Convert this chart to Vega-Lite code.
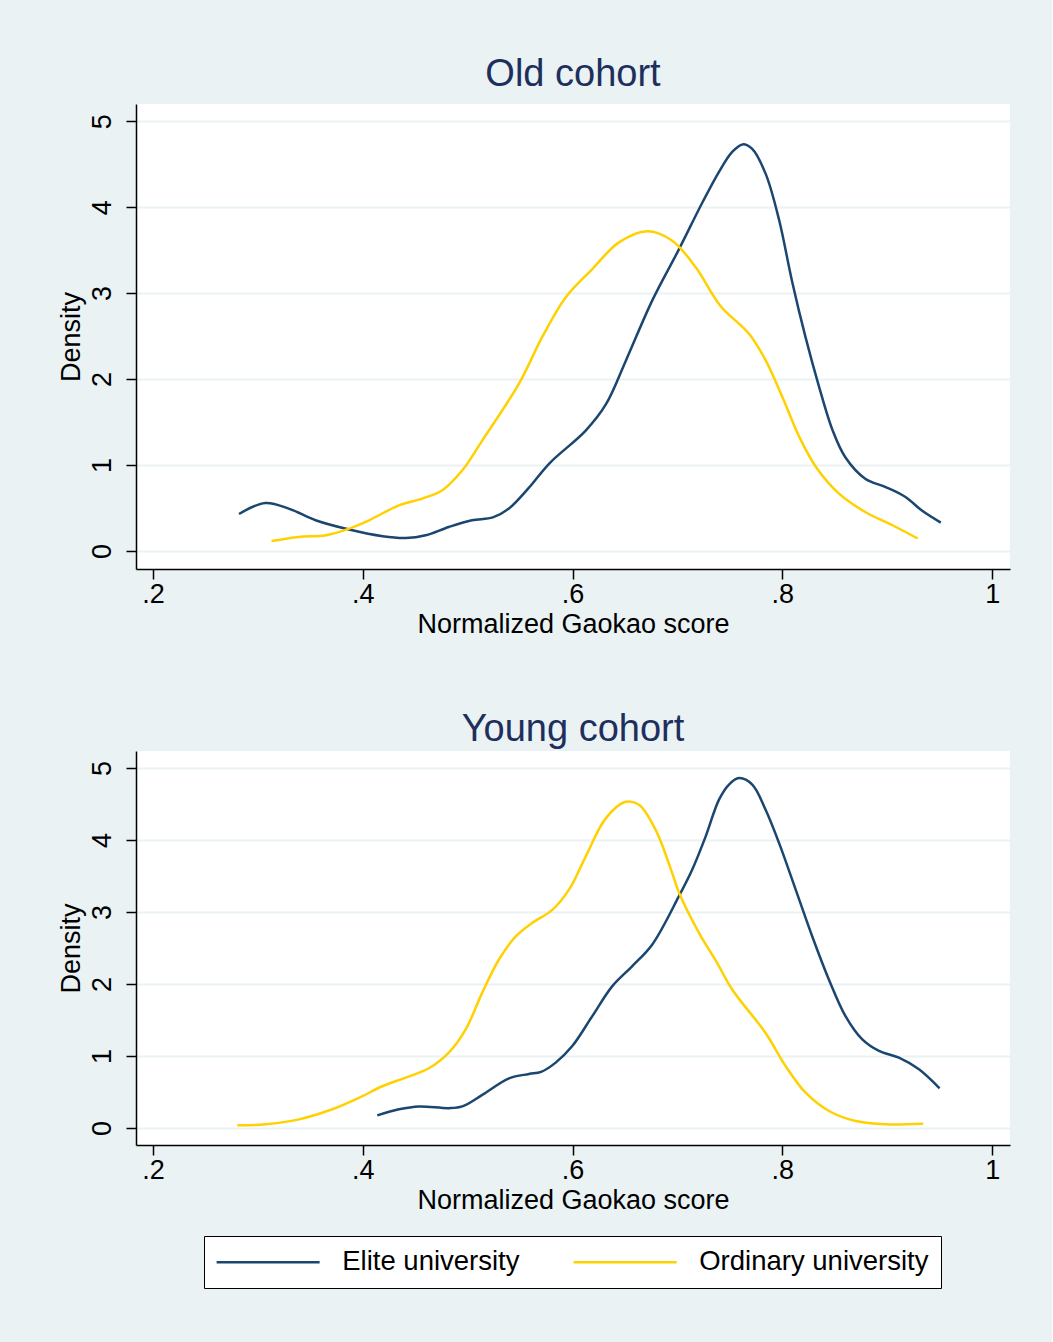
{
  "$schema": "https://vega.github.io/schema/vega-lite/v6.json",
  "background": "#EAF2F3",
  "padding": {"left": 57, "top": 56, "right": 42, "bottom": 57},
  "data": {"values": [
    {"c":"Old","g":"Elite university","x":0.282,"y":0.43},
    {"c":"Old","g":"Elite university","x":0.307,"y":0.558},
    {"c":"Old","g":"Elite university","x":0.330,"y":0.49},
    {"c":"Old","g":"Elite university","x":0.355,"y":0.357},
    {"c":"Old","g":"Elite university","x":0.387,"y":0.249},
    {"c":"Old","g":"Elite university","x":0.419,"y":0.171},
    {"c":"Old","g":"Elite university","x":0.441,"y":0.151},
    {"c":"Old","g":"Elite university","x":0.460,"y":0.183},
    {"c":"Old","g":"Elite university","x":0.482,"y":0.279},
    {"c":"Old","g":"Elite university","x":0.504,"y":0.357},
    {"c":"Old","g":"Elite university","x":0.524,"y":0.39},
    {"c":"Old","g":"Elite university","x":0.539,"y":0.49},
    {"c":"Old","g":"Elite university","x":0.558,"y":0.73},
    {"c":"Old","g":"Elite university","x":0.578,"y":1.02},
    {"c":"Old","g":"Elite university","x":0.6125,"y":1.40},
    {"c":"Old","g":"Elite university","x":0.632,"y":1.71},
    {"c":"Old","g":"Elite university","x":0.651,"y":2.22},
    {"c":"Old","g":"Elite university","x":0.676,"y":2.915},
    {"c":"Old","g":"Elite university","x":0.701,"y":3.50},
    {"c":"Old","g":"Elite university","x":0.724,"y":4.06},
    {"c":"Old","g":"Elite university","x":0.740,"y":4.42},
    {"c":"Old","g":"Elite university","x":0.752,"y":4.64},
    {"c":"Old","g":"Elite university","x":0.762,"y":4.73},
    {"c":"Old","g":"Elite university","x":0.771,"y":4.68},
    {"c":"Old","g":"Elite university","x":0.784,"y":4.39},
    {"c":"Old","g":"Elite university","x":0.797,"y":3.845},
    {"c":"Old","g":"Elite university","x":0.809,"y":3.15},
    {"c":"Old","g":"Elite university","x":0.822,"y":2.49},
    {"c":"Old","g":"Elite university","x":0.835,"y":1.91},
    {"c":"Old","g":"Elite university","x":0.848,"y":1.40},
    {"c":"Old","g":"Elite university","x":0.860,"y":1.09},
    {"c":"Old","g":"Elite university","x":0.879,"y":0.84},
    {"c":"Old","g":"Elite university","x":0.898,"y":0.745},
    {"c":"Old","g":"Elite university","x":0.917,"y":0.63},
    {"c":"Old","g":"Elite university","x":0.933,"y":0.47},
    {"c":"Old","g":"Elite university","x":0.951,"y":0.33},
    {"c":"Old","g":"Ordinary university","x":0.313,"y":0.116},
    {"c":"Old","g":"Ordinary university","x":0.339,"y":0.163},
    {"c":"Old","g":"Ordinary university","x":0.365,"y":0.183},
    {"c":"Old","g":"Ordinary university","x":0.387,"y":0.26},
    {"c":"Old","g":"Ordinary university","x":0.406,"y":0.357},
    {"c":"Old","g":"Ordinary university","x":0.4345,"y":0.531},
    {"c":"Old","g":"Ordinary university","x":0.4567,"y":0.609},
    {"c":"Old","g":"Ordinary university","x":0.4758,"y":0.706},
    {"c":"Old","g":"Ordinary university","x":0.4949,"y":0.938},
    {"c":"Old","g":"Ordinary university","x":0.514,"y":1.287},
    {"c":"Old","g":"Ordinary university","x":0.5489,"y":1.946},
    {"c":"Old","g":"Ordinary university","x":0.5711,"y":2.49},
    {"c":"Old","g":"Ordinary university","x":0.5934,"y":2.95},
    {"c":"Old","g":"Ordinary university","x":0.6188,"y":3.28},
    {"c":"Old","g":"Ordinary university","x":0.6442,"y":3.59},
    {"c":"Old","g":"Ordinary university","x":0.6712,"y":3.72},
    {"c":"Old","g":"Ordinary university","x":0.695,"y":3.61},
    {"c":"Old","g":"Ordinary university","x":0.7174,"y":3.30},
    {"c":"Old","g":"Ordinary university","x":0.741,"y":2.85},
    {"c":"Old","g":"Ordinary university","x":0.768,"y":2.53},
    {"c":"Old","g":"Ordinary university","x":0.784,"y":2.22},
    {"c":"Old","g":"Ordinary university","x":0.800,"y":1.79},
    {"c":"Old","g":"Ordinary university","x":0.816,"y":1.33},
    {"c":"Old","g":"Ordinary university","x":0.832,"y":0.977},
    {"c":"Old","g":"Ordinary university","x":0.854,"y":0.667},
    {"c":"Old","g":"Ordinary university","x":0.879,"y":0.453},
    {"c":"Old","g":"Ordinary university","x":0.905,"y":0.299},
    {"c":"Old","g":"Ordinary university","x":0.929,"y":0.145},
    {"c":"Young","g":"Elite university","x":0.4138,"y":0.176},
    {"c":"Young","g":"Elite university","x":0.4345,"y":0.26},
    {"c":"Young","g":"Elite university","x":0.4536,"y":0.30},
    {"c":"Young","g":"Elite university","x":0.4822,"y":0.276},
    {"c":"Young","g":"Elite university","x":0.4949,"y":0.30},
    {"c":"Young","g":"Elite university","x":0.5139,"y":0.46},
    {"c":"Young","g":"Elite university","x":0.5394,"y":0.69},
    {"c":"Young","g":"Elite university","x":0.5584,"y":0.75},
    {"c":"Young","g":"Elite university","x":0.5700,"y":0.78},
    {"c":"Young","g":"Elite university","x":0.5839,"y":0.908},
    {"c":"Young","g":"Elite university","x":0.5997,"y":1.138},
    {"c":"Young","g":"Elite university","x":0.6188,"y":1.554},
    {"c":"Young","g":"Elite university","x":0.6379,"y":1.97},
    {"c":"Young","g":"Elite university","x":0.6569,"y":2.248},
    {"c":"Young","g":"Elite university","x":0.676,"y":2.55},
    {"c":"Young","g":"Elite university","x":0.7014,"y":3.22},
    {"c":"Young","g":"Elite university","x":0.7141,"y":3.59},
    {"c":"Young","g":"Elite university","x":0.7269,"y":4.05},
    {"c":"Young","g":"Elite university","x":0.7396,"y":4.56},
    {"c":"Young","g":"Elite university","x":0.7491,"y":4.77},
    {"c":"Young","g":"Elite university","x":0.7587,"y":4.86},
    {"c":"Young","g":"Elite university","x":0.7713,"y":4.77},
    {"c":"Young","g":"Elite university","x":0.784,"y":4.42},
    {"c":"Young","g":"Elite university","x":0.7968,"y":3.96},
    {"c":"Young","g":"Elite university","x":0.8127,"y":3.31},
    {"c":"Young","g":"Elite university","x":0.8285,"y":2.66},
    {"c":"Young","g":"Elite university","x":0.8444,"y":2.06},
    {"c":"Young","g":"Elite university","x":0.8603,"y":1.55},
    {"c":"Young","g":"Elite university","x":0.8762,"y":1.23},
    {"c":"Young","g":"Elite university","x":0.8921,"y":1.07},
    {"c":"Young","g":"Elite university","x":0.9111,"y":0.977},
    {"c":"Young","g":"Elite university","x":0.9302,"y":0.815},
    {"c":"Young","g":"Elite university","x":0.9499,"y":0.55},
    {"c":"Young","g":"Ordinary university","x":0.2804,"y":0.037},
    {"c":"Young","g":"Ordinary university","x":0.3074,"y":0.051},
    {"c":"Young","g":"Ordinary university","x":0.3392,"y":0.12},
    {"c":"Young","g":"Ordinary university","x":0.3709,"y":0.26},
    {"c":"Young","g":"Ordinary university","x":0.3964,"y":0.42},
    {"c":"Young","g":"Ordinary university","x":0.4186,"y":0.58},
    {"c":"Young","g":"Ordinary university","x":0.4409,"y":0.70},
    {"c":"Young","g":"Ordinary university","x":0.4631,"y":0.83},
    {"c":"Young","g":"Ordinary university","x":0.4822,"y":1.05},
    {"c":"Young","g":"Ordinary university","x":0.4981,"y":1.37},
    {"c":"Young","g":"Ordinary university","x":0.5139,"y":1.88},
    {"c":"Young","g":"Ordinary university","x":0.5298,"y":2.34},
    {"c":"Young","g":"Ordinary university","x":0.5458,"y":2.66},
    {"c":"Young","g":"Ordinary university","x":0.5616,"y":2.85},
    {"c":"Young","g":"Ordinary university","x":0.5807,"y":3.03},
    {"c":"Young","g":"Ordinary university","x":0.5966,"y":3.31},
    {"c":"Young","g":"Ordinary university","x":0.6125,"y":3.77},
    {"c":"Young","g":"Ordinary university","x":0.6316,"y":4.30},
    {"c":"Young","g":"Ordinary university","x":0.6506,"y":4.53},
    {"c":"Young","g":"Ordinary university","x":0.6633,"y":4.49},
    {"c":"Young","g":"Ordinary university","x":0.6792,"y":4.14},
    {"c":"Young","g":"Ordinary university","x":0.695,"y":3.54},
    {"c":"Young","g":"Ordinary university","x":0.7014,"y":3.27},
    {"c":"Young","g":"Ordinary university","x":0.7205,"y":2.71},
    {"c":"Young","g":"Ordinary university","x":0.7379,"y":2.29},
    {"c":"Young","g":"Ordinary university","x":0.7523,"y":1.92},
    {"c":"Young","g":"Ordinary university","x":0.784,"y":1.32},
    {"c":"Young","g":"Ordinary university","x":0.8031,"y":0.86},
    {"c":"Young","g":"Ordinary university","x":0.8222,"y":0.49},
    {"c":"Young","g":"Ordinary university","x":0.8444,"y":0.236},
    {"c":"Young","g":"Ordinary university","x":0.8698,"y":0.097},
    {"c":"Young","g":"Ordinary university","x":0.8985,"y":0.051},
    {"c":"Young","g":"Ordinary university","x":0.9343,"y":0.06}
  ]},
  "spacing": 74,
  "resolve": {"legend": {"color": "independent"}},
  "vconcat": [
    {
      "width": 874,
      "height": 465,
      "title": {"text": "Old cohort", "offset": 10},
      "transform": [{"filter": "datum.c === 'Old'"}],
      "mark": {"type": "line", "interpolate": "catmull-rom", "strokeWidth": 2.5},
      "encoding": {
        "x": {"field": "x", "type": "quantitative", "title": "Normalized Gaokao score",
              "scale": {"domain": [0.1838, 1.017], "nice": false, "zero": false},
              "axis": {"values": [0.2, 0.4, 0.6, 0.8, 1.0], "labelExpr": "datum.value >= 0.99 ? '1' : '.' + format(datum.value * 10, '.0f')"}},
        "y": {"field": "y", "type": "quantitative", "title": "Density",
              "scale": {"domain": [-0.21, 5.2], "nice": false, "zero": false},
              "axis": {"values": [0, 1, 2, 3, 4, 5]}},
        "color": {"field": "g", "type": "nominal",
                  "scale": {"domain": ["Elite university", "Ordinary university"], "range": ["#1B4670", "#FFD100"]},
                  "legend": null}
      }
    },
    {
      "width": 874,
      "height": 394,
      "title": {"text": "Young cohort", "offset": 2},
      "transform": [{"filter": "datum.c === 'Young'"}],
      "mark": {"type": "line", "interpolate": "catmull-rom", "strokeWidth": 2.5},
      "encoding": {
        "x": {"field": "x", "type": "quantitative", "title": "Normalized Gaokao score",
              "scale": {"domain": [0.1838, 1.017], "nice": false, "zero": false},
              "axis": {"values": [0.2, 0.4, 0.6, 0.8, 1.0], "labelExpr": "datum.value >= 0.99 ? '1' : '.' + format(datum.value * 10, '.0f')"}},
        "y": {"field": "y", "type": "quantitative", "title": "Density",
              "scale": {"domain": [-0.236, 5.236], "nice": false, "zero": false},
              "axis": {"values": [0, 1, 2, 3, 4, 5]}},
        "color": {"field": "g", "type": "nominal",
                  "scale": {"domain": ["Elite university", "Ordinary university"], "range": ["#1B4670", "#FFD100"]},
                  "legend": {"title": null, "orient": "none", "legendX": 68, "legendY": 485, "direction": "horizontal"}}
      }
    }
  ],
  "config": {
    "font": "Liberation Sans",
    "view": {"fill": "white", "stroke": null},
    "title": {"fontSize": 38, "fontWeight": "normal", "color": "#1E2F5E", "frame": "group", "anchor": "middle", "font": "Liberation Sans"},
    "axis": {"domainColor": "black", "domainWidth": 1.5, "tickColor": "black", "tickWidth": 1.5, "tickSize": 10,
             "labelFontSize": 27, "labelColor": "black", "labelFont": "Liberation Sans",
             "titleFontSize": 27, "titleFontWeight": "normal", "titleColor": "black", "titleFont": "Liberation Sans",
             "gridColor": "#EAF2F3", "gridWidth": 2},
    "axisX": {"grid": false, "labelPadding": 2, "titlePadding": 4, "labelFlush": false},
    "axisY": {"grid": true, "labelAngle": -90, "labelAlign": "center", "labelBaseline": "bottom", "labelPadding": 10, "titlePadding": 3},
    "legend": {"labelFontSize": 27.5, "labelColor": "black", "labelFont": "Liberation Sans", "labelLimit": 0,
               "symbolType": "M-2.55,0H17.45", "symbolSize": 106.09, "symbolStrokeWidth": 2.5,
               "labelOffset": 98.7, "columnPadding": 48, "padding": 12,
               "fillColor": "white", "strokeColor": "black"}
  }
}
